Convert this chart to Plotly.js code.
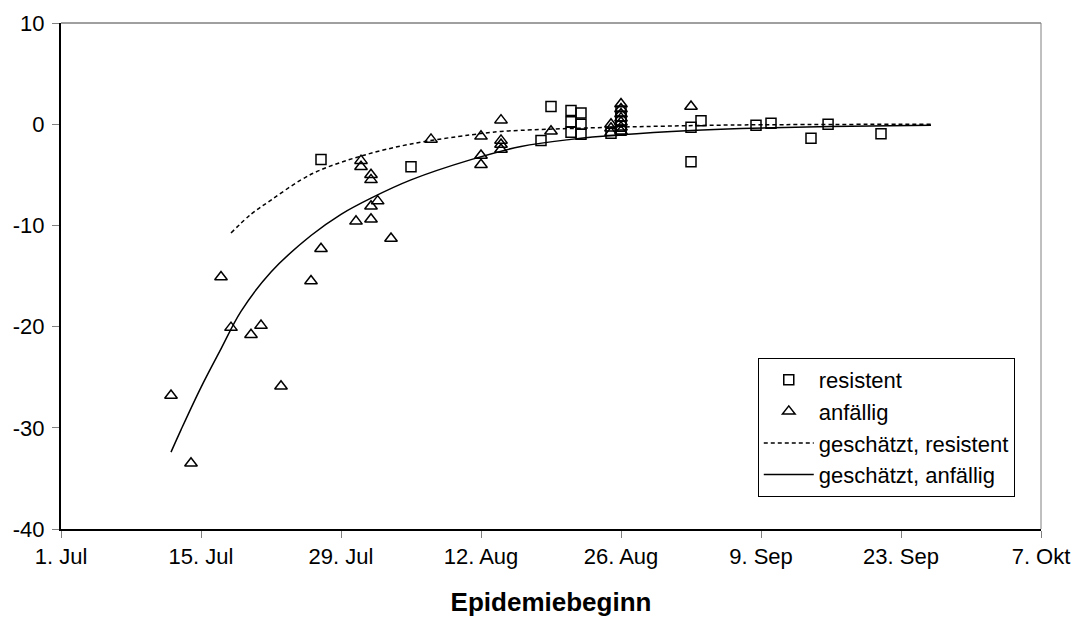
<!DOCTYPE html>
<html>
<head>
<meta charset="utf-8">
<script src="https://cdn.plot.ly/plotly-3.0.1.min.js"></script>
<style>html,body{margin:0;padding:0;background:#fff;}#chart{width:1077px;height:619px;}</style>
</head>
<body>
<div id="chart"></div>
<script>
// Tick labels
const xTickVals = ['2003-07-01','2003-07-15','2003-07-29','2003-08-12','2003-08-26','2003-09-09','2003-09-23','2003-10-07'];
const xTickText = ['1. Jul','15. Jul','29. Jul','12. Aug','26. Aug','9. Sep','23. Sep','7. Okt'];
const yTickVals = [-40,-30,-20,-10,0,10];
const yTickText = ['-40','-30','-20','-10','0','10'];

// Observed: resistent (squares)
const resistentDates = ['2003-07-27','2003-08-05','2003-08-18','2003-08-19',
  '2003-08-21','2003-08-21','2003-08-21','2003-08-22','2003-08-22','2003-08-22',
  '2003-08-25','2003-08-26','2003-08-26','2003-08-26','2003-08-26','2003-08-26',
  '2003-09-02','2003-09-02','2003-09-03','2003-09-08 12:00','2003-09-10','2003-09-14','2003-09-15 17:00','2003-09-21'];
const resistentValues = [-3.5,-4.2,-1.6,1.75,
  1.35,0.25,-0.8,1.1,0.0,-1.0,
  -0.9,1.3,0.8,0.3,-0.2,-0.6,
  -0.3,-3.7,0.35,-0.1,0.1,-1.4,0.0,-0.95];

// Observed: anfällig (triangles)
const anfaelligDates = ['2003-07-12','2003-07-14','2003-07-17','2003-07-18','2003-07-20','2003-07-21','2003-07-23',
  '2003-07-26','2003-07-27','2003-07-30 12:00','2003-08-01','2003-08-01','2003-08-01 16:00',
  '2003-07-31','2003-07-31','2003-08-01','2003-08-01','2003-08-03','2003-08-07',
  '2003-08-12','2003-08-12','2003-08-12','2003-08-14','2003-08-14','2003-08-14','2003-08-14',
  '2003-08-19','2003-08-25','2003-08-25','2003-08-25',
  '2003-08-26','2003-08-26','2003-08-26','2003-08-26','2003-08-26','2003-08-26','2003-08-26','2003-09-02'];
const anfaelligValues = [-26.8,-33.5,-15.1,-20.1,-20.8,-19.9,-25.9,
  -15.5,-12.3,-9.6,-9.4,-8.1,-7.6,
  -3.6,-4.2,-5.0,-5.5,-11.3,-1.5,
  -1.2,-3.1,-4.0,0.4,-1.6,-2.0,-2.5,
  -0.7,0.0,-0.4,-0.85,
  2.0,1.5,1.0,0.6,0.2,-0.3,-0.7,1.75];

// Estimated curves
const fitResDates = ['2003-07-18','2003-07-20','2003-07-22','2003-07-25','2003-07-27','2003-07-31','2003-08-05','2003-08-11','2003-08-14','2003-08-23','2003-08-30','2003-09-06','2003-09-26'];
const fitResValues = [-10.75,-8.9,-7.5,-5.5,-4.5,-3.15,-1.95,-1.05,-0.72,-0.36,-0.2,-0.08,0.0];
const fitAnfDates = ['2003-07-12','2003-07-13','2003-07-15','2003-07-17','2003-07-19','2003-07-22','2003-07-26','2003-07-29','2003-08-01','2003-08-05','2003-08-11','2003-08-16','2003-08-21','2003-08-26','2003-09-02','2003-09-07','2003-09-16','2003-09-26'];
const fitAnfValues = [-32.4,-30.2,-26.0,-22.2,-18.5,-14.6,-11.0,-8.9,-7.3,-5.5,-3.5,-2.2,-1.5,-1.05,-0.62,-0.42,-0.22,-0.1];

const traces = [
  {x: resistentDates, y: resistentValues, type: 'scatter', mode: 'markers', name: 'resistent', legendgroup: 'a',
   marker: {symbol: 'square-open', size: 10, color: '#000', line: {width: 1.5, color: '#000'}}},
  {x: anfaelligDates, y: anfaelligValues, type: 'scatter', mode: 'markers', name: 'anfällig', legendgroup: 'b',
   marker: {symbol: 'triangle-up-open', size: 11, color: '#000', line: {width: 1.5, color: '#000'}}},
  {x: fitResDates, y: fitResValues, type: 'scatter', mode: 'lines', name: 'geschätzt, resistent', legendgroup: 'c',
   line: {color: '#000', width: 1.5, dash: '4px,3px', shape: 'spline', smoothing: 1}},
  {x: fitAnfDates, y: fitAnfValues, type: 'scatter', mode: 'lines', name: 'geschätzt, anfällig', legendgroup: 'd',
   line: {color: '#000', width: 1.5, shape: 'spline', smoothing: 1}}
];

const layout = {
  width: 1077, height: 619,
  margin: {l: 61, r: 36, t: 23, b: 90},
  paper_bgcolor: '#fff', plot_bgcolor: '#fff',
  font: {family: '"Liberation Sans", Arial, sans-serif', size: 22, color: '#000'},
  showlegend: true,
  legend: {x: 0.711, y: 0.338, xanchor: 'left', yanchor: 'top', bordercolor: '#000', borderwidth: 1,
           bgcolor: '#fff', font: {size: 22}, tracegroupgap: 0, traceorder: 'grouped', itemwidth: 50},
  xaxis: {type: 'date', range: ['2003-07-01','2003-10-07'], tickvals: xTickVals, ticktext: xTickText,
          showgrid: false, zeroline: false, showline: true, linecolor: '#000', linewidth: 2,
          ticks: 'outside', ticklen: 7, tickcolor: '#808080', tickwidth: 1,
          title: {text: '<b>Epidemiebeginn</b>', font: {size: 26}, standoff: 24}},
  yaxis: {range: [-40, 10], tickvals: yTickVals, ticktext: yTickText, showgrid: false, zeroline: false,
          showline: true, linecolor: '#000', linewidth: 2, ticks: 'outside', ticklen: 7,
          tickcolor: '#808080', tickwidth: 1, ticklabelstandoff: 3},
  shapes: [
    {type: 'line', xref: 'paper', yref: 'paper', x0: 0, x1: 1, y0: 1, y1: 1, line: {color: '#404040', width: 1}},
    {type: 'line', xref: 'paper', yref: 'paper', x0: 1, x1: 1, y0: 0, y1: 1, line: {color: '#808080', width: 1}}
  ]
};

Plotly.newPlot('chart', traces, layout, {displayModeBar: false, staticPlot: true});
</script>
</body>
</html>
